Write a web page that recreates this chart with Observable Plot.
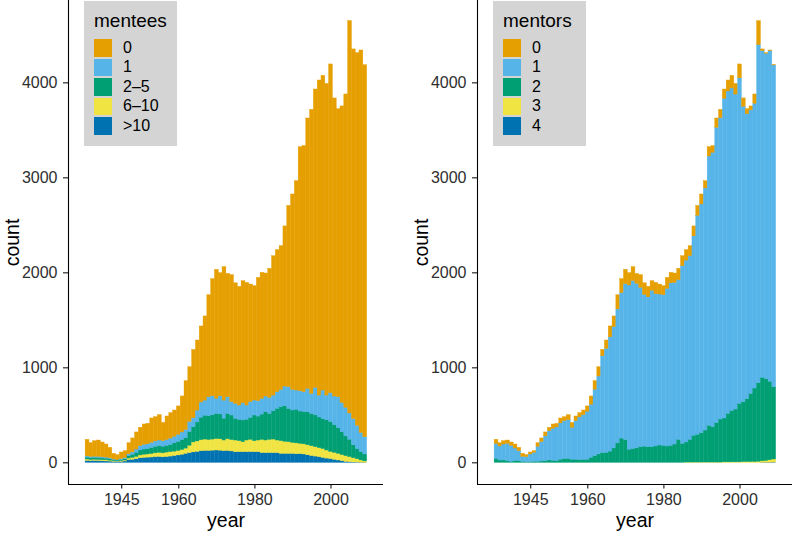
<!DOCTYPE html>
<html><head><meta charset="utf-8">
<script src="https://cdn.jsdelivr.net/npm/d3@7"></script>
<script src="https://cdn.jsdelivr.net/npm/@observablehq/plot@0.6"></script>
<style>
html,body{margin:0;padding:0;background:#fff;overflow:hidden}
#wrap{position:relative;width:793px;height:537px;overflow:hidden;font-family:"Liberation Sans",Arial,Helvetica,sans-serif}
.panel{position:absolute;top:0;width:396px;height:537px}
.panel svg{max-width:none !important}
.legend{position:absolute;top:1px;width:93px;height:145px;background:#d4d4d4}
.legend .ttl{position:absolute;left:10px;top:10px;font-size:19px;line-height:19px;color:#000}
.legend .row{position:absolute;left:10px;height:17.5px;display:flex;align-items:center}
.legend .key{width:18px;height:17.5px}
.legend .lab{margin-left:11px;font-size:16px;line-height:16px;color:#000}
</style></head><body><div id="wrap"></div>
<script>
const years = [1936,1937,1938,1939,1940,1941,1942,1943,1944,1945,1946,1947,1948,1949,1950,1951,1952,1953,1954,1955,1956,1957,1958,1959,1960,1961,1962,1963,1964,1965,1966,1967,1968,1969,1970,1971,1972,1973,1974,1975,1976,1977,1978,1979,1980,1981,1982,1983,1984,1985,1986,1987,1988,1989,1990,1991,1992,1993,1994,1995,1996,1997,1998,1999,2000,2001,2002,2003,2004,2005,2006,2007,2008,2009];

// mentees panel (counts per year)
const menteeCats = ["0","1","2\u20135","6\u201310",">10"];
const menteesZero = [174,145,164,173,156,138,110,60,51,69,73,117,147,180,194,214,216,257,256,267,193,248,268,276,299,379,515,577,719,738,801,886,1075,1234,1357,1297,1405,1299,1336,1269,1250,1284,1292,1239,1204,1298,1327,1295,1358,1467,1495,1513,1686,1909,2057,2204,2569,2590,2846,2990,3141,3317,3313,3281,3461,3138,3032,3122,3298,4130,3892,3923,4026,3916];
const menteesOne = [13,12,12,12,12,11,10,7,6,10,12,20,25,35,45,50,50,55,57,60,58,62,67,70,75,80,85,105,95,125,160,160,200,200,160,190,190,175,142,158,150,182,150,165,158,162,165,165,169,165,176,182,207,228,217,203,214,209,247,211,289,230,301,260,303,300,326,308,300,277,275,245,203,182];
const mentees2to5 = [20,20,20,20,18,17,15,11,10,12,14,25,33,43,52,55,57,63,68,70,70,70,76,87,95,105,110,145,160,200,237,250,250,255,265,262,230,267,258,228,225,229,218,231,270,252,266,298,273,298,333,358,374,351,341,353,340,340,347,340,335,323,315,318,315,293,270,240,210,183,137,107,87,73];
const mentees6to10 = [15,12,13,12,12,12,10,8,6,8,10,17,20,24,30,33,33,36,40,43,42,46,46,46,47,50,55,78,105,110,116,120,115,117,120,120,113,123,120,123,116,105,123,130,116,123,140,133,140,143,133,134,128,123,116,115,108,107,105,103,99,95,93,85,75,73,70,64,60,54,44,35,23,14];
const menteesOver10 = [20,18,19,18,16,15,13,9,8,10,14,28,32,38,48,52,55,56,60,62,58,62,66,72,78,85,95,102,110,115,122,125,125,128,130,128,122,125,120,112,112,112,112,112,112,112,102,102,102,102,102,94,94,94,94,90,92,88,80,72,66,60,52,45,40,32,25,18,10,6,4,3,2,1];

// mentors panel (counts per year)
const mentorCats = ["0","1","2","3","4"];
const mentorsZero = [42,35,35,35,35,42,35,32,21,21,18,38,38,42,35,45,38,52,42,52,52,49,45,49,56,87,91,98,66,87,115,112,150,147,150,130,147,105,133,122,110,100,120,105,95,115,110,100,120,105,110,105,105,105,105,77,98,70,98,88,98,116,133,112,147,88,53,42,98,253,18,7,7,3];
const mentorsOne = [158,147,168,182,168,133,105,52,53,81,94,158,205,260,309,338,355,383,400,411,337,407,450,470,506,559,699,821,1021,1096,1203,1277,1410,1532,1642,1729,1768,1732,1678,1598,1578,1647,1603,1590,1586,1660,1711,1700,1680,1870,1915,1934,2100,2305,2408,2548,2836,2889,3109,3172,3365,3393,3397,3316,3426,3109,3000,2984,2998,3558,3439,3425,3481,3387];
const mentorsTwo = [42,25,25,18,11,18,18,11,7,7,11,11,14,18,25,21,18,32,39,39,32,32,28,32,32,53,70,88,102,105,118,152,205,255,240,138,145,152,165,170,165,165,172,182,179,172,179,193,242,200,211,239,281,292,309,337,386,372,415,453,462,511,539,556,616,631,662,718,774,827,879,861,826,761];
const mentorsThree = [0,0,0,0,0,0,0,0,0,0,0,0,0,0,0,0,0,0,0,0,0,0,0,0,0,0,0,0,0,0,0,0,0,0,0,0,0,0,0,0,0,0,0,0,0,0,0,0,0,0,3,3,3,3,3,3,3,3,3,3,5,5,5,5,5,8,8,8,8,12,15,18,25,32];
const mentorsFour = [0,0,0,0,0,0,0,0,0,0,0,0,0,0,0,0,0,0,0,0,0,0,0,0,0,0,0,0,0,0,0,0,0,0,0,0,0,0,0,0,0,0,0,0,0,0,0,0,0,0,0,0,0,0,0,0,0,0,0,0,0,0,0,0,0,0,0,0,0,0,1,2,2,3];

const palette = ["#E69F00","#56B4E9","#009E73","#F0E442","#0072B2"];
const xTicks = [1945,1960,1980,2000];
const yTicks = [0,1000,2000,3000,4000];
const xDomain = [1931.0, 2013.8];
const yDomain = [-228, 4867];
const FONT = '"Liberation Sans", Arial, Helvetica, sans-serif';

function panel(cats, series) {
  const rows = [];
  years.forEach((yr, i) => {
    for (let k = cats.length - 1; k >= 0; k--) rows.push({year: yr, cat: cats[k], count: series[k][i]});
  });
  const svg = Plot.plot({
    width: 396, height: 537,
    marginLeft: 68, marginRight: 13, marginTop: 0, marginBottom: 53,
    style: {fontFamily: FONT, fontSize: "16px", background: "transparent", color: "#000", overflow: "visible", maxWidth: "none"},
    x: {domain: xDomain, label: null},
    y: {domain: yDomain, label: null},
    color: {domain: cats, range: palette},
    marks: [
      Plot.rectY(rows, {x1: d => d.year - 0.5, x2: d => d.year + 0.5, y: "count", fill: "cat", stroke: "cat", strokeWidth: 0.4}),
      Plot.ruleX([xDomain[0]], {stroke: "#000", strokeWidth: 1.1}),
      Plot.ruleY([yDomain[0]], {stroke: "#000", strokeWidth: 1.1}),
      Plot.axisX({ticks: xTicks, tickFormat: d => String(d), tickSize: 4.5, tickPadding: 5, stroke: "#000", fill: "#2e2e2e", fontSize: 16, label: "year", labelAnchor: "center", labelOffset: 42, labelArrow: "none"}),
      Plot.axisY({ticks: yTicks, tickFormat: d => String(d), tickSize: 5, tickPadding: 6, stroke: "#000", fill: "#2e2e2e", fontSize: 16, label: "count", labelAnchor: "center", labelOffset: 63, labelArrow: "none"})
    ]
  });
  svg.style.maxWidth = "none";
  svg.querySelectorAll("text").forEach(t => {
    t.style.fontFamily = FONT;
    t.style.fontSize = "16px";
  });
  svg.querySelectorAll('[aria-label="x-axis label"], [aria-label="y-axis label"]').forEach(g => {
    g.setAttribute("fill", "#000");
    g.querySelectorAll("text").forEach(t => { t.setAttribute("fill", "#000"); t.style.fontSize = "19.5px"; });
  });
  return svg;
}

function legend(title, cats, left) {
  const box = document.createElement("div");
  box.className = "legend";
  box.style.left = left + "px";
  const t = document.createElement("div");
  t.className = "ttl"; t.textContent = title; box.appendChild(t);
  cats.forEach((c, i) => {
    const row = document.createElement("div");
    row.className = "row";
    row.style.top = (38 + i * 19.5) + "px";
    const k = document.createElement("span");
    k.className = "key"; k.style.background = palette[i];
    const l = document.createElement("span");
    l.className = "lab"; l.textContent = c;
    row.appendChild(k); row.appendChild(l);
    box.appendChild(row);
  });
  return box;
}

const wrap = document.getElementById("wrap");
const p1 = panel(menteeCats, [menteesZero, menteesOne, mentees2to5, mentees6to10, menteesOver10]);
const d1 = document.createElement("div"); d1.className = "panel"; d1.style.left = "0px"; d1.appendChild(p1);
const p2 = panel(mentorCats, [mentorsZero, mentorsOne, mentorsTwo, mentorsThree, mentorsFour]);
const d2 = document.createElement("div"); d2.className = "panel"; d2.style.left = "409px"; d2.appendChild(p2);
wrap.appendChild(d1); wrap.appendChild(d2);
wrap.appendChild(legend("mentees", menteeCats, 84));
wrap.appendChild(legend("mentors", mentorCats, 493));
</script></body></html>
